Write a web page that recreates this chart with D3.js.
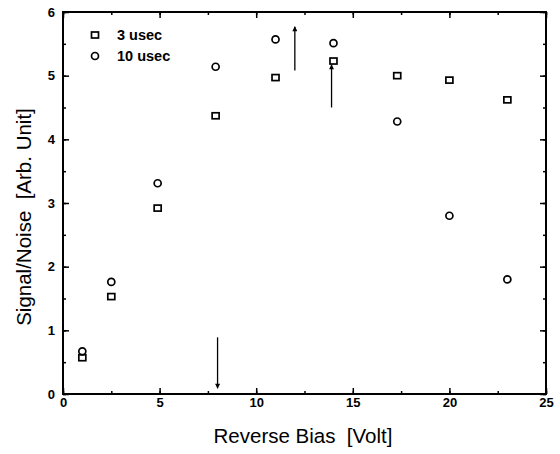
<!DOCTYPE html>
<html>
<head>
<meta charset="utf-8">
<script src="https://cdn.jsdelivr.net/npm/d3@7"></script>
<style>
  body { margin: 0; background: #fff; }
  svg text { font-family: Arial, "Liberation Sans", sans-serif; fill: #000; white-space: pre; }
</style>
</head>
<body>
<svg id="chart" width="560" height="454"></svg>
<script>
// data
var bias = [1, 2.5, 4.9, 7.9, 11, 14, 17.3, 20, 23];
var sn3 = [0.57, 1.53, 2.92, 4.37, 4.97, 5.23, 5.0, 4.93, 4.62];
var sn10 = [0.67, 1.76, 3.31, 5.14, 5.57, 5.51, 4.28, 2.8, 1.8];
var seriesNames = ["3 usec", "10 usec"];
var xTicks = [0, 5, 10, 15, 20, 25];
var yTicks = [0, 1, 2, 3, 4, 5, 6];
// arrows: x, from, to
var arrows = [
  {x: 12, y0: 5.08, y1: 5.77},
  {x: 13.9, y0: 4.5, y1: 5.17},
  {x: 8, y0: 0.89, y1: 0.09}
];

var svg = d3.select('#chart');
var pLeft = 63, pRight = 546, pTop = 12, pBottom = 394;

var x = d3.scaleLinear().domain([0, 25]).range([pLeft, pRight]);
var y = d3.scaleLinear().domain([0, 6]).range([pBottom, pTop]);

// frame
svg.append('rect')
  .attr('x', pLeft).attr('y', pTop)
  .attr('width', pRight - pLeft).attr('height', pBottom - pTop)
  .attr('fill', 'none').attr('stroke', '#000').attr('stroke-width', 2);

function styleAxis(g) {
  g.select('.domain').remove();
  g.selectAll('line').attr('stroke', '#000').attr('stroke-width', 1.5);
  g.selectAll('text').attr('font-size', 13).attr('font-weight', 'bold');
}

var xMinor = d3.range(0, 25.1, 2.5);
var yMinor = d3.range(0, 6.01, 0.5);

// bottom axis with labels, ticks inward
svg.append('g').attr('transform', 'translate(0,' + pBottom + ')')
  .call(d3.axisBottom(x).tickValues(xMinor).tickSize(-3).tickFormat(''))
  .call(styleAxis);
svg.append('g').attr('transform', 'translate(0,' + pBottom + ')')
  .call(d3.axisBottom(x).tickValues(xTicks).tickSize(-6).tickPadding(4).tickFormat(d3.format('d')))
  .call(styleAxis);
// top
svg.append('g').attr('transform', 'translate(0,' + pTop + ')')
  .call(d3.axisTop(x).tickValues(xMinor).tickSize(-3).tickFormat(''))
  .call(styleAxis);
svg.append('g').attr('transform', 'translate(0,' + pTop + ')')
  .call(d3.axisTop(x).tickValues(xTicks).tickSize(-6).tickFormat(''))
  .call(styleAxis);
// left
svg.append('g').attr('transform', 'translate(' + pLeft + ',0)')
  .call(d3.axisLeft(y).tickValues(yMinor).tickSize(-3).tickFormat(''))
  .call(styleAxis);
svg.append('g').attr('transform', 'translate(' + pLeft + ',0)')
  .call(d3.axisLeft(y).tickValues(yTicks).tickSize(-6).tickPadding(8).tickFormat(d3.format('d')))
  .call(styleAxis);
// right
svg.append('g').attr('transform', 'translate(' + pRight + ',0)')
  .call(d3.axisRight(y).tickValues(yMinor).tickSize(-3).tickFormat(''))
  .call(styleAxis);
svg.append('g').attr('transform', 'translate(' + pRight + ',0)')
  .call(d3.axisRight(y).tickValues(yTicks).tickSize(-6).tickFormat(''))
  .call(styleAxis);

// axis titles
svg.append('text')
  .attr('x', 303).attr('y', 443)
  .attr('text-anchor', 'middle').attr('font-size', 20.5)
  .text('Reverse Bias  [Volt]');
svg.append('text')
  .attr('transform', 'translate(31,217) rotate(-90)')
  .attr('text-anchor', 'middle').attr('font-size', 20.5)
  .text('Signal/Noise  [Arb. Unit]');

// markers
var pts3 = bias.map(function(b, i) { return [b, sn3[i]]; });
var pts10 = bias.map(function(b, i) { return [b, sn10[i]]; });

svg.append('g').selectAll('rect').data(pts3).enter().append('rect')
  .attr('x', function(d) { return x(d[0]) - 3.5; })
  .attr('y', function(d) { return y(d[1]) - 3; })
  .attr('width', 7).attr('height', 6)
  .attr('fill', 'none').attr('stroke', '#000').attr('stroke-width', 1.7);

svg.append('g').selectAll('circle').data(pts10).enter().append('circle')
  .attr('cx', function(d) { return x(d[0]); })
  .attr('cy', function(d) { return y(d[1]); })
  .attr('r', 3.5)
  .attr('fill', 'none').attr('stroke', '#000').attr('stroke-width', 1.7);

// arrows
svg.append('defs').append('marker')
  .attr('id', 'head').attr('viewBox', '0 0 10 10')
  .attr('refX', 9).attr('refY', 5)
  .attr('markerWidth', 6).attr('markerHeight', 5)
  .attr('markerUnits', 'userSpaceOnUse')
  .attr('orient', 'auto')
  .append('path').attr('d', 'M0,0 L10,5 L0,10 z').attr('fill', '#000');

svg.append('g').selectAll('line').data(arrows).enter().append('line')
  .attr('x1', function(d) { return x(d.x); })
  .attr('x2', function(d) { return x(d.x); })
  .attr('y1', function(d) { return y(d.y0); })
  .attr('y2', function(d) { return y(d.y1); })
  .attr('stroke', '#000').attr('stroke-width', 1.3)
  .attr('marker-end', 'url(#head)');

// legend
var legend = svg.append('g');
legend.append('rect')
  .attr('x', 95 - 3.5).attr('y', 35 - 3).attr('width', 7).attr('height', 6)
  .attr('fill', 'none').attr('stroke', '#000').attr('stroke-width', 1.7);
legend.append('circle')
  .attr('cx', 95).attr('cy', 56).attr('r', 3.5)
  .attr('fill', 'none').attr('stroke', '#000').attr('stroke-width', 1.7);
legend.selectAll('text').data(seriesNames).enter().append('text')
  .attr('x', 117)
  .attr('y', function(d, i) { return 35 + i * 21; })
  .attr('dy', '0.35em')
  .attr('font-size', 14.5).attr('font-weight', 'bold')
  .text(function(d) { return d; });
</script>
</body>
</html>
